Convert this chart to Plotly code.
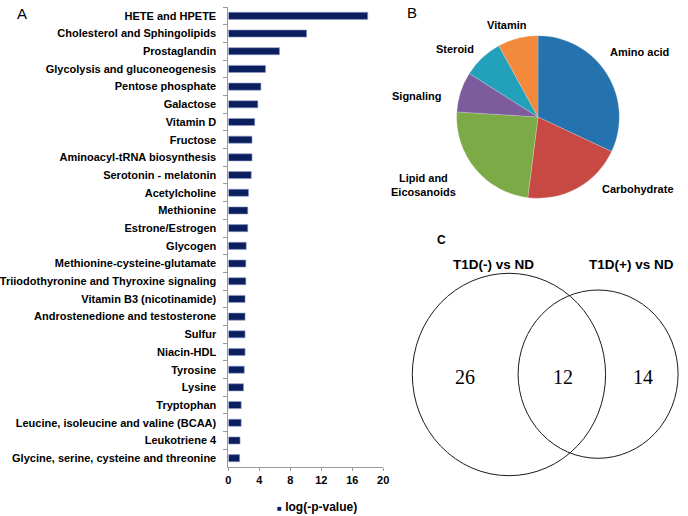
import plotly.graph_objects as go

W, H = 688, 516

# ---- panel A data ----
pathways = [
    'HETE and HPETE', 'Cholesterol and Sphingolipids', 'Prostaglandin',
    'Glycolysis and gluconeogenesis', 'Pentose phosphate', 'Galactose',
    'Vitamin D', 'Fructose', 'Aminoacyl-tRNA biosynthesis', 'Serotonin - melatonin',
    'Acetylcholine', 'Methionine', 'Estrone/Estrogen', 'Glycogen',
    'Methionine-cysteine-glutamate', 'Triiodothyronine and Thyroxine signaling',
    'Vitamin B3 (nicotinamide)', 'Androstenedione and testosterone', 'Sulfur',
    'Niacin-HDL', 'Tyrosine', 'Lysine', 'Tryptophan',
    'Leucine, isoleucine and valine (BCAA)', 'Leukotriene 4',
    'Glycine, serine, cysteine and threonine',
]
log_p = [18.0, 10.1, 6.6, 4.8, 4.2, 3.8, 3.4, 3.05, 3.05, 2.95, 2.6, 2.5, 2.5,
         2.3, 2.25, 2.25, 2.15, 2.15, 2.15, 2.15, 2.05, 1.95, 1.65, 1.65, 1.5, 1.45]
x_ticks = [0, 4, 8, 12, 16, 20]
series_name = 'log(-p-value)'

# ---- panel B data ----
classes = ['Amino acid', 'Carbohydrate', 'Lipid and<br>Eicosanoids', 'Signaling', 'Steroid', 'Vitamin']
class_counts = [8, 5, 6, 2, 2, 2]

# ---- panel C data ----
venn_sets = ['T1D(-) vs ND', 'T1D(+) vs ND']
venn_counts = [26, 12, 14]   # left only, shared, right only

FONT = 'Liberation Sans, Arial, sans-serif'
NAVY = '#0B1E5E'
pie_colors = ['#2573AE', '#C84944', '#7BAA47', '#7C5C9C', '#23A0BA', '#F3893A']


def px(x):
    return x / W


def py(y):
    return 1 - y / H


fig = go.Figure()

fig.add_trace(go.Bar(
    x=log_p, y=pathways, orientation='h', width=0.4,
    marker=dict(color=NAVY, line=dict(color='#8E9CC8', width=0.6)),
    name=series_name, showlegend=False,
))

fig.add_trace(go.Pie(
    labels=classes, values=class_counts, sort=False, direction='clockwise',
    rotation=0, textinfo='none', hoverinfo='label+percent',
    marker=dict(colors=pie_colors, line=dict(color='#dddddd', width=0.3)),
    domain=dict(x=[px(458), px(624)], y=[py(200), py(34)]),
    showlegend=False,
))

ann = []
# panel letters
ann.append(dict(text='A', x=px(14), y=py(13), font=dict(size=15, color='black')))
ann.append(dict(text='B', x=px(412), y=py(12), font=dict(size=15, color='black')))
ann.append(dict(text='<b>C</b>', x=px(443), y=py(240), font=dict(size=12, color='black')))

# legend of panel A
ann.append(dict(
    text='<span style="font-size:8px;color:%s">■</span> <b>%s</b>' % (NAVY, series_name),
    x=px(273), y=py(507), xanchor='left', font=dict(size=12, color='black')))

# pie labels
pie_label_pos = [(645, 52), (643, 189), (424.5, 185), (417.5, 96), (456, 49), (509, 25)]
for lab, (lx, ly) in zip(classes, pie_label_pos):
    ann.append(dict(text='<b>%s</b>' % lab, x=px(lx), y=py(ly),
                    font=dict(size=11, color='black')))

# venn titles and numbers
for lab, lx in zip(venn_sets, [496, 636]):
    ann.append(dict(text='<b>%s</b>' % lab, x=px(lx), y=py(264),
                    font=dict(size=13.5, color='black')))
for n, lx in zip(venn_counts, [467, 567, 648]):
    ann.append(dict(text=str(n), x=px(lx), y=py(377),
                    font=dict(size=20, color='black', family='Liberation Serif, Times New Roman, serif')))

for a in ann:
    a.setdefault('xref', 'paper')
    a.setdefault('yref', 'paper')
    a.setdefault('showarrow', False)
    a.setdefault('xanchor', 'center')
    a.setdefault('yanchor', 'middle')

# venn circles
shapes = [
    dict(type='circle', xref='paper', yref='paper',
         x0=px(412.7), x1=px(610), y0=py(475.7), y1=py(273.3),
         line=dict(color='#1a1a1a', width=1)),
    dict(type='circle', xref='paper', yref='paper',
         x0=px(520.7), x1=px(684), y0=py(458.3), y1=py(290),
         line=dict(color='#1a1a1a', width=1)),
]

fig.update_layout(
    width=W, height=H,
    margin=dict(l=0, r=0, t=0, b=0),
    paper_bgcolor='white', plot_bgcolor='white',
    font=dict(family=FONT, color='black'),
    annotations=ann, shapes=shapes,
    xaxis=dict(
        domain=[px(225), px(383)], range=[0, 20], tickvals=x_ticks,
        showgrid=False, zeroline=False, showline=True, linecolor='#9a9a9a', linewidth=1,
        ticks='outside', ticklen=3, tickcolor='#9a9a9a',
        tickfont=dict(size=11, weight='bold'),
    ),
    yaxis=dict(
        domain=[py(467), py(7)], autorange='reversed',
        showgrid=False, zeroline=False, showline=True, linecolor='#9a9a9a', linewidth=1,
        ticks='outside', ticklen=4, tickcolor='#9a9a9a', tickson='boundaries',
        tickfont=dict(size=11, weight='bold'), ticklabelstandoff=9,
    ),
)

# page body has an 8px default margin; drop it so the figure sits at the corner
fig.write_html('out.html', config={'displayModeBar': False},
               post_script="document.body.style.margin='0';")
